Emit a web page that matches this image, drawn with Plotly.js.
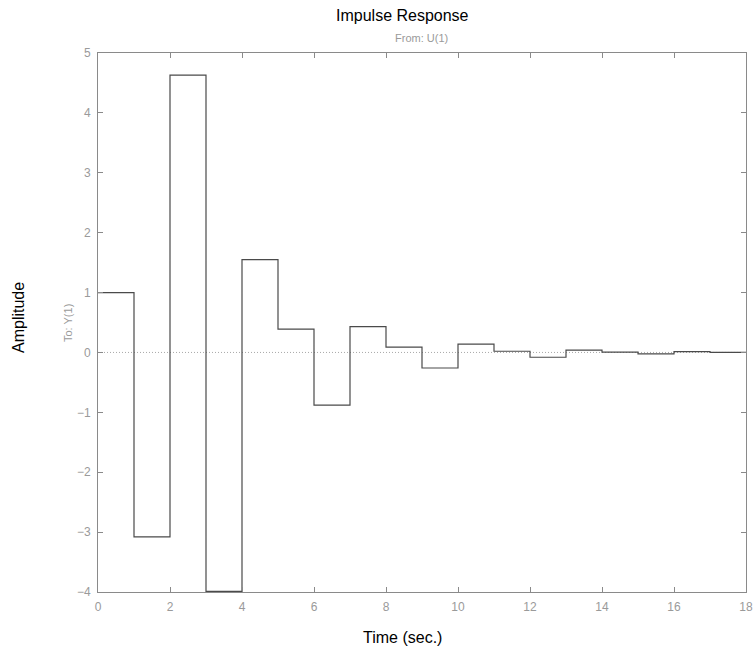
<!DOCTYPE html>
<html>
<head>
<meta charset="utf-8">
<script src="https://cdn.plot.ly/plotly-3.0.1.min.js"></script>
<style>html,body{margin:0;padding:0;background:#fff;}#chart{width:753px;height:652px;}</style>
</head>
<body>
<div id="chart"></div>
<script>
// Data
const timeSteps = [0, 1, 2, 3, 4, 5, 6, 7, 8, 9, 10, 11, 12, 13, 14, 15, 16, 17, 18];
const amplitude = [1.0, -3.08, 4.63, -3.99, 1.55, 0.39, -0.88, 0.43, 0.09, -0.26, 0.14, 0.02, -0.08, 0.04, 0.005, -0.025, 0.015, 0.0, 0.0];
const zeroLineX = [0, 18];
const zeroLineY = [0, 0];
const xTicks = [0, 2, 4, 6, 8, 10, 12, 14, 16, 18];
const yTicks = [-4, -3, -2, -1, 0, 1, 2, 3, 4, 5];

const W = 753, H = 652;
const L = 98, R = 7, T = 53, B = 60;
const pw = W - L - R, ph = H - T - B;
function px(x){ return (x - L) / pw; }
function py(y){ return (H - B - y) / ph; }

const font = "Liberation Sans, Arial, Helvetica, sans-serif";
const grey = "#8a8a8a";

const traces = [
  {
    x: zeroLineX, y: zeroLineY, mode: "lines", type: "scatter",
    line: {color: "#a8a8a8", width: 1, dash: "1px,2px"}, hoverinfo: "skip", showlegend: false
  },
  {
    x: timeSteps, y: amplitude, mode: "lines", type: "scatter",
    line: {color: "#4a4a4a", width: 1.2, shape: "hv"}, showlegend: false
  }
];

const axisCommon = {
  showgrid: false, zeroline: false, showline: true, mirror: "ticks",
  linecolor: grey, linewidth: 1, ticks: "inside", ticklen: 5, tickcolor: grey,
  tickfont: {family: font, size: 12, color: "#9a9a9a"}
};

const layout = {
  width: W, height: H,
  margin: {l: L, r: R, t: T, b: B, pad: 0},
  paper_bgcolor: "#ffffff", plot_bgcolor: "#ffffff",
  xaxis: Object.assign({}, axisCommon, {range: [0, 18], tickvals: xTicks, ticktext: xTicks.map(String), ticklabelstandoff: 4}),
  yaxis: Object.assign({}, axisCommon, {range: [-4, 5], tickvals: yTicks, ticktext: yTicks.map(v => v < 0 ? "\u2212" + Math.abs(v) : String(v)), ticklabelstandoff: 4}),
  annotations: [
    {text: "Impulse Response", xref: "paper", yref: "paper", x: px(402), y: py(15), xanchor: "center", yanchor: "middle",
     showarrow: false, font: {family: font, size: 16, color: "#000"}},
    {text: "From: U(1)", xref: "paper", yref: "paper", x: px(421), y: py(38), xanchor: "center", yanchor: "middle",
     showarrow: false, font: {family: font, size: 11, color: "#9a9a9a"}},
    {text: "Time (sec.)", xref: "paper", yref: "paper", x: px(402), y: py(637), xanchor: "center", yanchor: "middle",
     showarrow: false, font: {family: font, size: 16, color: "#000"}},
    {text: "Amplitude", xref: "paper", yref: "paper", x: px(18), y: py(318), xanchor: "center", yanchor: "middle",
     textangle: -90, showarrow: false, font: {family: font, size: 16, color: "#000"}},
    {text: "To: Y(1)", xref: "paper", yref: "paper", x: px(68), y: py(323), xanchor: "center", yanchor: "middle",
     textangle: -90, showarrow: false, font: {family: font, size: 11, color: "#9a9a9a"}}
  ]
};

Plotly.newPlot("chart", traces, layout, {displayModeBar: false, staticPlot: true});
</script>
</body>
</html>
